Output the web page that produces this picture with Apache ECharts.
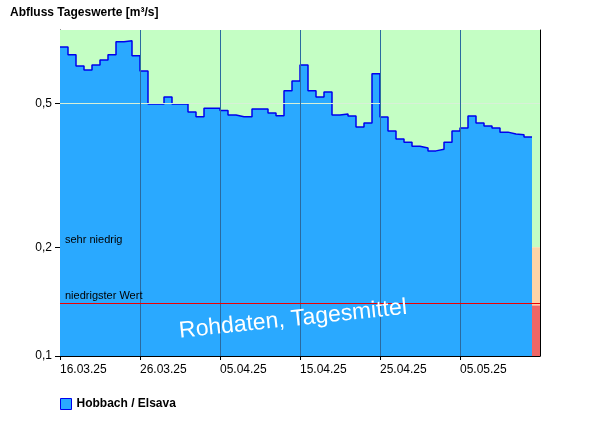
<!DOCTYPE html>
<html><head><meta charset="utf-8">
<script src="https://cdn.jsdelivr.net/npm/echarts@6/dist/echarts.min.js"></script>
<style>html,body{margin:0;padding:0;background:#fff}#c{width:600px;height:426px}</style>
</head><body><div id="c"></div>
<script>
const startDate = [2025, 2, 16];
const dailyFlow = [0.718,0.683,0.636,0.620,0.640,0.661,0.683,0.742,0.747,0.679,
  0.616,0.499,0.499,0.522,0.499,0.499,0.474,0.460,0.486,0.486,
  0.479,0.465,0.460,0.460,0.483,0.483,0.471,0.463,0.543,0.578,
  0.640,0.543,0.522,0.539,0.465,0.468,0.462,0.431,0.442,0.605,
  0.459,0.420,0.399,0.391,0.381,0.377,0.370,0.374,0.391,0.420,
  0.428,0.462,0.442,0.434,0.428,0.417,0.412,0.410,0.404];
const lowestValue = 0.138;
const veryLow = 0.2;
const yTicks = [0.1, 0.2, 0.5];
const xTickDays = [0, 10, 20, 30, 40, 50];
const totalDays = 60;

const stepData = dailyFlow.map((v, i) => [i, v]);
stepData.push([dailyFlow.length, dailyFlow[dailyFlow.length - 1]]);

function dayLabel(d) {
  const dt = new Date(startDate[0], startDate[1], startDate[2] + d);
  const p = n => String(n).padStart(2, '0');
  return p(dt.getDate()) + '.' + p(dt.getMonth() + 1) + '.' + String(dt.getFullYear()).slice(2);
}

const chart = echarts.init(document.getElementById('c'));
chart.setOption({
  animation: false,
  title: { text: 'Abfluss Tageswerte [m³/s]', left: 5, top: 2,
    textStyle: { fontSize: 12, fontWeight: 'bold', color: '#000', fontFamily: 'Arial, Liberation Sans' } },
  legend: { left: 55, top: 393, itemWidth: 11, itemHeight: 11, icon: 'rect',
    textStyle: { fontSize: 12, fontWeight: 'bold', color: '#000', fontFamily: 'Arial, Liberation Sans' },
    data: [{ name: 'Hobbach / Elsava', itemStyle: { color: '#2aa9ff', borderColor: '#0000ee', borderWidth: 1 } }] },
  grid: { left: 60, right: 60, top: 30, bottom: 70 },
  xAxis: { type: 'value', min: 0, max: totalDays,
    axisLine: { lineStyle: { color: '#000' } },
    axisTick: { show: true, customValues: xTickDays, length: 4, lineStyle: { color: '#000' } },
    axisLabel: { customValues: xTickDays, align: 'left', margin: 8, fontSize: 12, color: '#000',
      fontFamily: 'Arial, Liberation Sans', formatter: v => dayLabel(v) },
    splitLine: { show: false } },
  yAxis: [{ type: 'log', logBase: 10, min: 0.1, max: 0.8,
    axisLine: { show: true, lineStyle: { color: '#000' } },
    axisTick: { show: true, customValues: yTicks, length: 5, lineStyle: { color: '#000' } },
    axisLabel: { customValues: yTicks, fontSize: 12, color: '#000', fontFamily: 'Arial, Liberation Sans',
      formatter: v => String(v).replace('.', ',') },
    splitLine: { show: false }, minorTick: { show: false } },
    { type: 'log', logBase: 10, min: 0.1, max: 0.8, position: 'right',
      axisLine: { show: true, onZero: false, lineStyle: { color: '#000' } },
      axisTick: { show: false }, axisLabel: { show: false }, splitLine: { show: false } }],
  series: [
    { type: 'line', name: 'bands', data: [], z: 1, silent: true,
      markArea: { silent: true, data: [
        [{ xAxis: 0, yAxis: veryLow, itemStyle: { color: '#c4fec4' } }, { xAxis: totalDays, yAxis: 0.8 }],
        [{ xAxis: 0, yAxis: lowestValue, itemStyle: { color: '#fed4a8' } }, { xAxis: totalDays, yAxis: veryLow }],
        [{ xAxis: 0, yAxis: 0.1, itemStyle: { color: '#ee6666' } }, { xAxis: totalDays, yAxis: lowestValue }]
      ] },
      markLine: { silent: true, symbol: 'none', label: { show: false },
        lineStyle: { color: '#d8f0d8', type: 'solid', width: 1 }, data: [{ yAxis: 0.5 }] } },
    { type: 'line', name: 'Hobbach / Elsava', data: stepData, step: 'end', z: 3,
      showSymbol: false, symbol: 'none',
      lineStyle: { color: '#0000ee', width: 1.5 },
      itemStyle: { color: '#2aa9ff' },
      areaStyle: { color: '#2aa9ff', opacity: 1, origin: 'start' } },
    { type: 'line', name: 'overlay', data: [], z: 5, silent: true,
      markLine: { silent: true, symbol: 'none', animation: false, data: [
        ...xTickDays.slice(1).map(d => ({ xAxis: d, lineStyle: { color: '#2a6aa0', width: 1, type: 'solid' }, label: { show: false } })),
        { yAxis: lowestValue, lineStyle: { color: '#ee0000', width: 1, type: 'solid' },
          label: { show: true, position: 'insideStartTop', formatter: 'niedrigster Wert', color: '#000', fontSize: 11, fontFamily: 'Arial, Liberation Sans', distance: [5, 2] } },
        { yAxis: veryLow, lineStyle: { color: 'rgba(0,0,0,0)', width: 0 },
          label: { show: true, position: 'insideStartTop', formatter: 'sehr niedrig', color: '#000', fontSize: 11, fontFamily: 'Arial, Liberation Sans', distance: [5, 2] } }
      ] } }
  ],
  graphic: [{ type: 'text', left: 178, top: 296, rotation: 6 * Math.PI / 180, z: 100,
    style: { text: 'Rohdaten, Tagesmittel', fontSize: 23, fill: '#fff', fontFamily: 'Arial, Liberation Sans',
      shadowColor: 'rgba(0,0,0,0.6)', shadowBlur: 2, shadowOffsetX: 1, shadowOffsetY: 1 } }]
});
</script></body></html>
